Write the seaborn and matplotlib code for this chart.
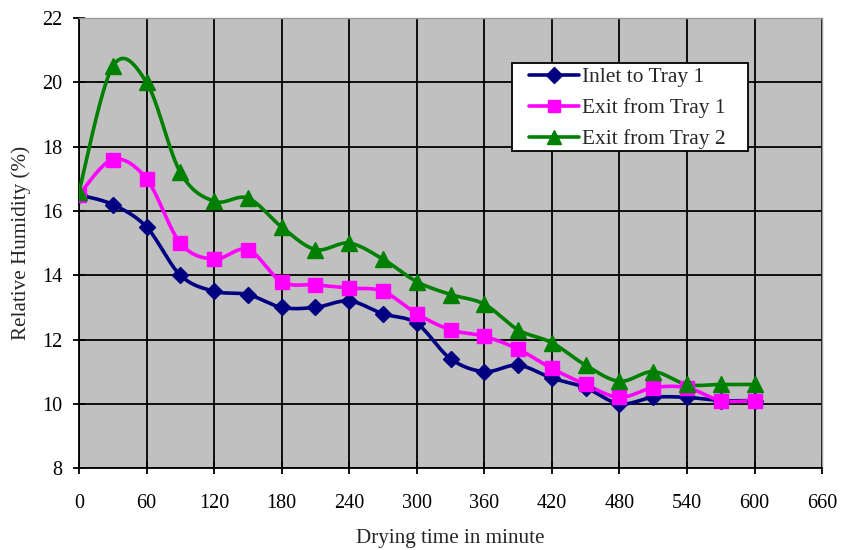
import numpy as np
import pandas as pd
import matplotlib
matplotlib.use("Agg")
import matplotlib.pyplot as plt
from matplotlib.lines import Line2D
from matplotlib.patches import Rectangle
import seaborn as sns

# Drying time (minutes) and relative humidity readings
minutes = [0, 30, 60, 90, 120, 150, 180, 210, 240, 270, 300,
           330, 360, 390, 420, 450, 480, 510, 540, 570, 600]
inlet_tray1 = [16.5, 16.2, 15.5, 14.0, 13.5, 13.4, 13.0, 13.0, 13.2, 12.8, 12.5,
               11.4, 11.0, 11.2, 10.8, 10.5, 10.0, 10.2, 10.2, 10.1, 10.1]
exit_tray1 = [16.5, 17.6, 17.0, 15.0, 14.5, 14.8, 13.8, 13.7, 13.6, 13.5, 12.8,
              12.3, 12.1, 11.7, 11.1, 10.6, 10.2, 10.5, 10.5, 10.1, 10.1]
exit_tray2 = [16.6, 20.5, 20.0, 17.2, 16.3, 16.4, 15.5, 14.8, 15.0, 14.5, 13.8,
              13.4, 13.1, 12.3, 11.9, 11.2, 10.7, 11.0, 10.6, 10.6, 10.6]
series_names = ["Inlet to Tray 1", "Exit from Tray 1", "Exit from Tray 2"]
x_ticks = list(range(0, 661, 60))
y_ticks = list(range(8, 23, 2))


def smooth(xs, ys, steps=30):
    """Bezier smoothing through every point (Catmull-Rom style control points)."""
    p = np.column_stack([xs, ys]).astype(float)
    n = len(p)
    out = []
    for i in range(n - 1):
        p0 = p[max(i - 1, 0)]
        p1 = p[i]
        p2 = p[i + 1]
        p3 = p[min(i + 2, n - 1)]
        b1 = p1 + (p2 - p0) / 6.0
        b2 = p2 - (p3 - p1) / 6.0
        t = np.linspace(0, 1, steps, endpoint=(i == n - 2))[:, None]
        seg = ((1 - t) ** 3) * p1 + 3 * ((1 - t) ** 2) * t * b1 \
            + 3 * (1 - t) * t ** 2 * b2 + t ** 3 * p2
        out.append(seg)
    out = np.vstack(out)
    return out[:, 0], out[:, 1]


sns.set_theme(style="white")
plt.rcParams["font.family"] = ["Liberation Serif", "DejaVu Serif"]

fig = plt.figure(figsize=(8.43, 5.5), dpi=100)
ax = fig.add_axes([0.0937, 0.149, 0.8815, 0.818])
ax.set_facecolor("#C0C0C0")

styles = [
    dict(color="#000080", marker="D", ms=8.5),
    dict(color="#FF00FF", marker="s", ms=10),
    dict(color="#008000", marker="^", ms=11),
]
handles = []
for name, vals, st in zip(series_names, [inlet_tray1, exit_tray1, exit_tray2], styles):
    sx, sy = smooth(minutes, vals)
    curve = pd.DataFrame({"minute": sx, "rh": sy})
    sns.lineplot(data=curve, x="minute", y="rh", sort=False, ax=ax,
                 color=st["color"], linewidth=2.6, zorder=3)
    pts = pd.DataFrame({"minute": minutes, "rh": vals})
    ax.plot(pts["minute"], pts["rh"], linestyle="none", marker=st["marker"],
            ms=st["ms"], color=st["color"], markeredgecolor=st["color"], zorder=4)
    handles.append(Line2D([0], [0], color=st["color"], linewidth=2.6,
                          marker=st["marker"], ms=st["ms"] * 0.9,
                          markeredgecolor=st["color"]))

ax.set_xlim(0, 660)
ax.set_ylim(8, 22)
ax.set_xticks(x_ticks)
ax.set_yticks(y_ticks)
ax.grid(True, color="black", linewidth=1.3)
ax.set_axisbelow(True)
for side in ["left", "bottom"]:
    ax.spines[side].set_color("black")
    ax.spines[side].set_linewidth(1.3)
for side in ["top", "right"]:
    ax.spines[side].set_color("#9A9A9A")
    ax.spines[side].set_linewidth(1.0)
ax.tick_params(axis="both", direction="inout", length=8, width=1.3,
               colors="black", labelsize=14.5, left=True, bottom=True)
ax.tick_params(axis="x", pad=15)
ax.tick_params(axis="y", pad=8)

ax.set_xlabel("Drying time in minute", fontsize=15.2, labelpad=11)
ax.set_ylabel("Relative Humidity (%)", fontsize=15.2, labelpad=8)

# Legend box: wide white frame with the entries set inside it
ax.add_patch(Rectangle((0.5828, 0.7044), 0.3176, 0.1956, transform=ax.transAxes,
                       facecolor="white", edgecolor="black", linewidth=1.3,
                       zorder=6))
leg = ax.legend(handles, series_names, loc="center left",
                bbox_to_anchor=(0.6057, 0.800), fontsize=15.4, frameon=False,
                handlelength=2.34, handletextpad=0.14,
                borderpad=0, labelspacing=0.52, borderaxespad=0)
leg.set_zorder(7)

fig.savefig("out.png", dpi=100, facecolor="white")
